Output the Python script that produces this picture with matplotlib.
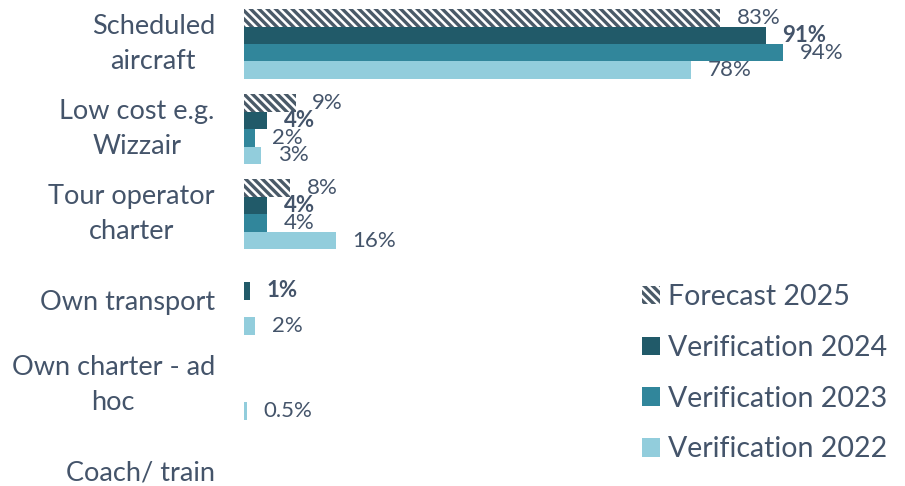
import matplotlib.pyplot as plt
from matplotlib.patches import Patch
import numpy as np

plt.rcParams['font.family'] = ['Lato', 'DejaVu Sans']
plt.rcParams['hatch.linewidth'] = 2.4

categories = ["Scheduled\naircraft", "Low cost e.g.\nWizzair", "Tour operator\ncharter",
              "Own transport", "Own charter - ad\nhoc", "Coach/ train"]
series = ["Forecast 2025", "Verification 2024", "Verification 2023", "Verification 2022"]
forecast_2025 = [83, 9, 8, 0, 0, 0]
verif_2024 = [91, 4, 4, 1, 0, 0]
verif_2023 = [94, 2, 4, 0, 0, 0]
verif_2022 = [78, 3, 16, 2, 0.5, 0]

values = [forecast_2025, verif_2024, verif_2023, verif_2022]
colors = ['white', '#215a69', '#31869b', '#92cddc']
txt = '#44546a'
hatch_col = '#4a5a68'
hatch = '\\\\\\\\'

fig = plt.figure(figsize=(9.05, 4.86), dpi=100)
ax = fig.add_axes([244/905, 0, 1 - 244/905, 1])

y = np.arange(len(categories))
h = 0.205
for k, vals in enumerate(values):
    pos = y + (k - 1.5) * h
    if k == 0:
        bars = ax.barh(pos, vals, height=h, color='white', edgecolor=hatch_col,
                       hatch=hatch, linewidth=0)
    else:
        bars = ax.barh(pos, vals, height=h, color=colors[k], linewidth=0)
    for b, v in zip(bars, vals):
        if v == 0:
            continue
        lab = f"{v:g}%"
        ax.annotate(lab, (v, b.get_y() + h / 2), xytext=(12, 0),
                    textcoords='offset points', va='center', ha='left',
                    fontsize=16, color=txt,
                    fontweight='bold' if k == 1 else 'normal')

ax.set_xlim(0, 661 / 5.734)
ax.set_ylim((486 - 44) / 85.2, -44 / 85.2)
ax.set_yticks(y)
ax.set_yticklabels(categories, fontsize=19.5, color=txt, multialignment='center',
                   linespacing=1.5)
for t in ax.get_yticklabels():
    if '\n' in t.get_text():
        t.set_va('center')
ax.tick_params(axis='y', length=0, pad=21)
ax.set_xticks([])
for s in ax.spines.values():
    s.set_visible(False)

handles = [Patch(facecolor='white', edgecolor=hatch_col, hatch=hatch, linewidth=0)]
handles += [Patch(facecolor=c, linewidth=0) for c in colors[1:]]
leg = fig.legend(handles, series, loc='upper left', bbox_to_anchor=(642/905, 1 - 284/486),
                 frameon=False, fontsize=20.5, labelcolor=txt, handlelength=0.62,
                 handleheight=0.62, handletextpad=0.3, labelspacing=0.87,
                 borderpad=0, borderaxespad=0)

fig.savefig('out.png', dpi=100)
